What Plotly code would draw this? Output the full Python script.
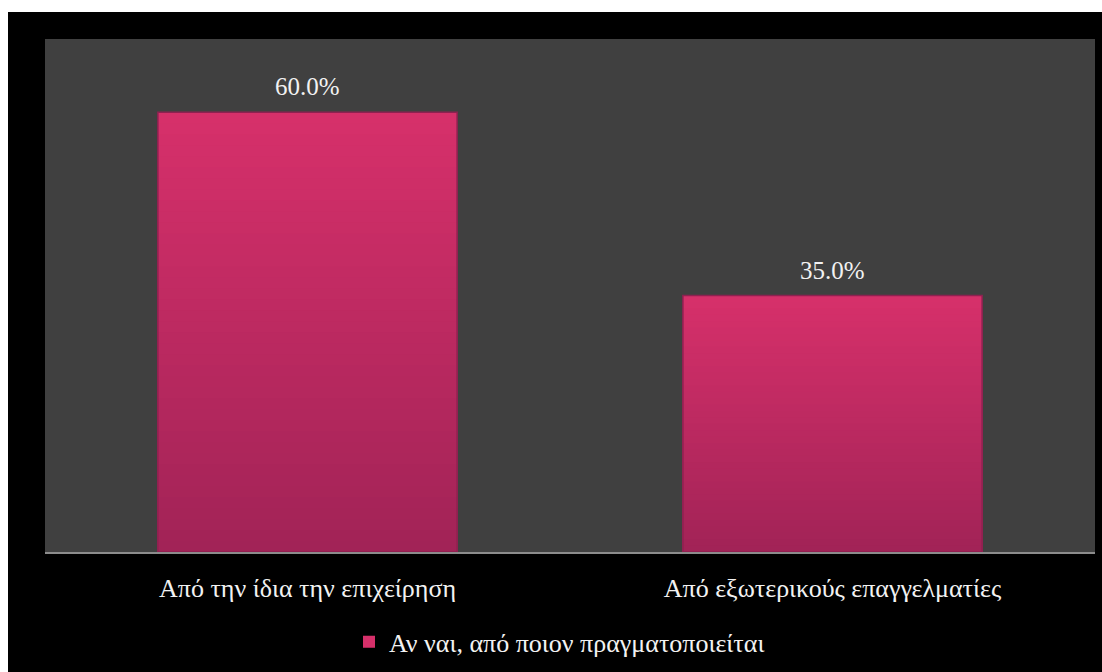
import plotly.graph_objects as go

# Survey responses: who carries out the work
categories = ["Από την ίδια την επιχείρηση", "Από εξωτερικούς επαγγελματίες"]
shares = [60.0, 35.0]
series_name = "Αν ναι, από ποιον πραγματοποιείται"

FONT = "Liberation Serif, Times New Roman, serif"
TEXT_COLOR = "#f2f2f2"
TOP_RGB = (214, 48, 106)     # bar colour at the top
BOTTOM_RGB = (162, 35, 87)   # bar colour at the base
N_BANDS = 40

fig = go.Figure()

# vertical gradient: overlaid bars of decreasing height, darker toward the base
for k in range(N_BANDS):
    t = k / (N_BANDS - 1)
    rgb = tuple(round(a + (b - a) * t) for a, b in zip(TOP_RGB, BOTTOM_RGB))
    frac = 1 - k / N_BANDS
    fig.add_trace(go.Bar(
        x=categories,
        y=[v * frac for v in shares],
        name=series_name,
        marker=dict(color="rgb(%d,%d,%d)" % rgb, line=dict(width=0)),
        showlegend=(k == 0),
        hoverinfo="skip",
    ))

# outline of each bar
fig.add_trace(go.Bar(
    x=categories, y=shares, name=series_name,
    marker=dict(color="rgba(0,0,0,0)", line=dict(color="#8e2150", width=1.5)),
    showlegend=False, hoverinfo="skip",
))

# value labels above each bar
for cat, val in zip(categories, shares):
    fig.add_annotation(
        x=cat, y=val, text=f"{val:.1f}%",
        showarrow=False, yanchor="bottom", yshift=10,
        font=dict(family=FONT, size=25, color=TEXT_COLOR),
    )

# white page strips along the top and left edges
fig.add_shape(type="rect", xref="paper", yref="paper", layer="above",
              xsizemode="pixel", xanchor=0, x0=-60, x1=-37,
              y0=-1, y1=2, fillcolor="white", line_width=0)
fig.add_shape(type="rect", xref="paper", yref="paper", layer="above",
              ysizemode="pixel", yanchor=1, y0=27, y1=60,
              x0=-1, x1=2, fillcolor="white", line_width=0)

fig.update_layout(
    width=1102, height=672,
    margin=dict(l=45, r=7, t=39, b=120, autoexpand=False),
    paper_bgcolor="black",
    plot_bgcolor="#404040",
    barmode="overlay",
    bargap=0.43,
    font=dict(family=FONT, size=26, color=TEXT_COLOR),
    legend=dict(orientation="h", x=0.49, xanchor="center",
                yref="container", y=0.045, yanchor="middle",
                font=dict(family=FONT, size=26, color=TEXT_COLOR),
                bgcolor="rgba(0,0,0,0)"),
)
fig.update_xaxes(showline=True, linecolor="#8c8c8c", linewidth=2,
                 ticks="outside", ticklen=12, tickcolor="black",
                 tickfont=dict(family=FONT, size=26, color=TEXT_COLOR))
fig.update_yaxes(range=[0, 70], showgrid=False, showticklabels=False,
                 zeroline=False, showline=False)

fig.write_html("out.html")
